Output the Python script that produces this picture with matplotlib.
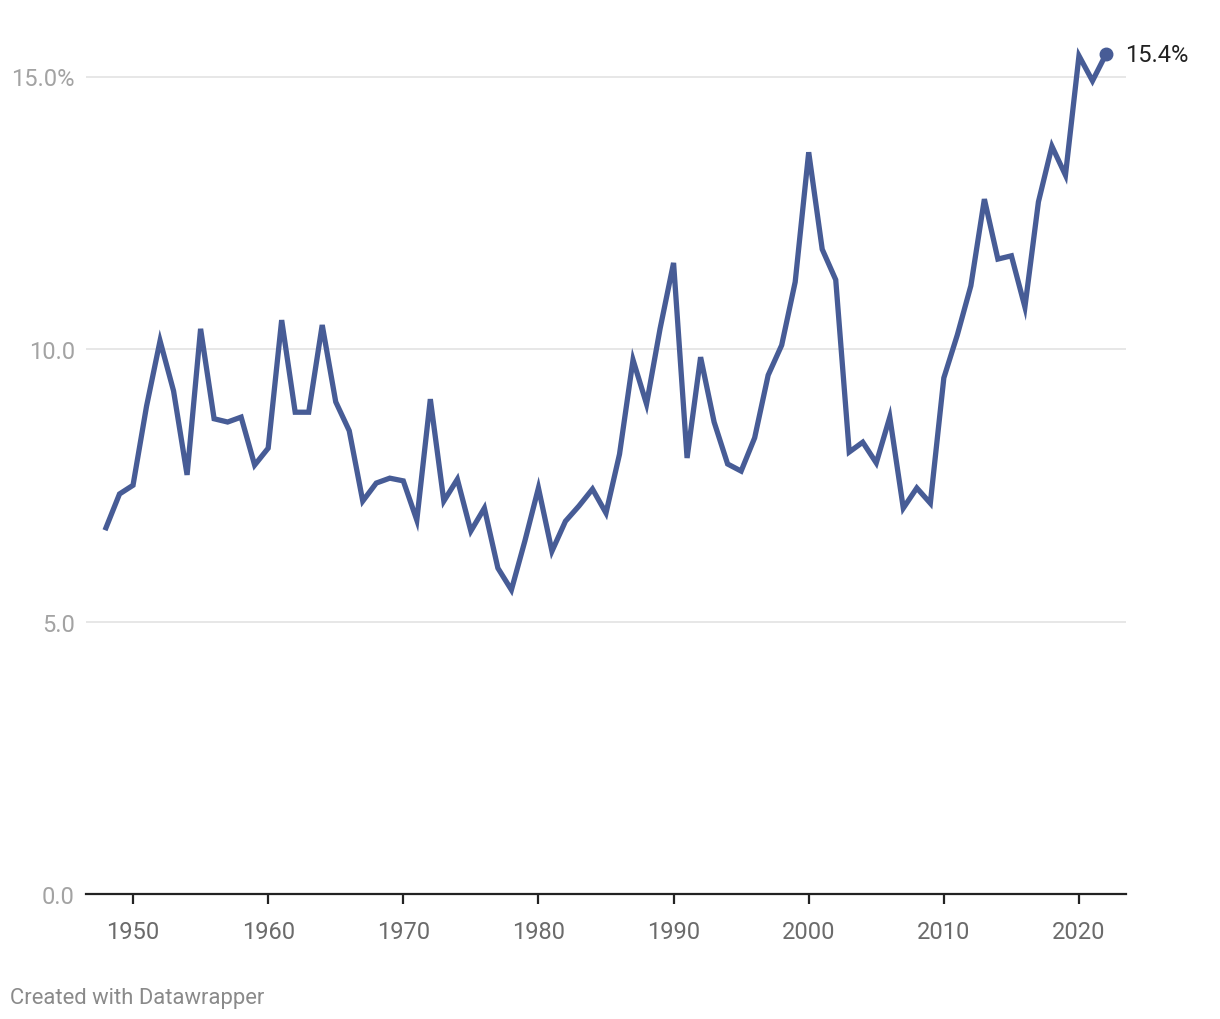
import matplotlib
matplotlib.use("Agg")
import matplotlib.pyplot as plt

years = list(range(1948, 2023))
values = [6.72, 7.34, 7.50, 8.95, 10.15, 9.23, 7.69, 10.37, 8.72, 8.66,
          8.75, 7.87, 8.18, 10.53, 8.84, 8.84, 10.44, 9.03, 8.50, 7.21,
          7.54, 7.63, 7.58, 6.86, 9.08, 7.21, 7.61, 6.66, 7.08, 5.98,
          5.58, 6.48, 7.45, 6.29, 6.84, 7.12, 7.43, 6.99, 8.07, 9.80,
          8.99, 10.37, 11.58, 8.00, 9.85, 8.66, 7.89, 7.76, 8.37, 9.52,
          10.07, 11.23, 13.61, 11.83, 11.27, 8.11, 8.29, 7.91, 8.75, 7.08,
          7.45, 7.17, 9.47, 10.26, 11.16, 12.75, 11.65, 11.71, 10.77, 12.70,
          13.72, 13.19, 15.38, 14.92, 15.41]
y_ticks = [0, 5, 10, 15]
y_tick_labels = ["0.0", "5.0", "10.0", "15.0%"]
x_ticks = [1950, 1960, 1970, 1980, 1990, 2000, 2010, 2020]
end_label = "15.4%"

plt.rcParams['font.family'] = ['Roboto', 'DejaVu Sans']
color = "#475c96"

fig = plt.figure(figsize=(12.2, 10.2), dpi=100)
ax = fig.add_axes([86/1220, 1 - 895/1020, (1126-86)/1220, (895-23)/1020])

ax.plot(years, values, color=color, lw=3.8, solid_joinstyle='miter', zorder=3)
ax.plot([years[-1]], [values[-1]], 'o', color=color, ms=9, zorder=4)
ax.annotate(end_label, (years[-1], values[-1]), xytext=(14, 0), textcoords='offset points',
            va='center', ha='left', fontsize=17, color='#222222')

ax.set_xlim(1946.52, 2023.48)
ax.set_ylim(0, 16)

for t in y_ticks[1:]:
    ax.axhline(t, color='#e0e0e0', lw=1.1, zorder=1)

ax.set_yticks(y_ticks)
ax.set_yticklabels(y_tick_labels)
ax.tick_params(axis='y', length=0, pad=8, labelsize=17, labelcolor='#a3a3a3')
ax.set_xticks(x_ticks)
ax.tick_params(axis='x', length=7, width=1.6, color='#222222', pad=12, labelsize=17, labelcolor='#6b6b6b')

for s in ['top', 'right', 'left']:
    ax.spines[s].set_visible(False)
ax.spines['bottom'].set_color('#222222')
ax.spines['bottom'].set_linewidth(1.6)
ax.spines['bottom'].set_zorder(5)

fig.text(10/1220, 1 - 999/1020, "Created with Datawrapper", fontsize=15.8, color='#8a8a8a',
         ha='left', va='center')

fig.savefig("out.png", dpi=100, facecolor='white')
